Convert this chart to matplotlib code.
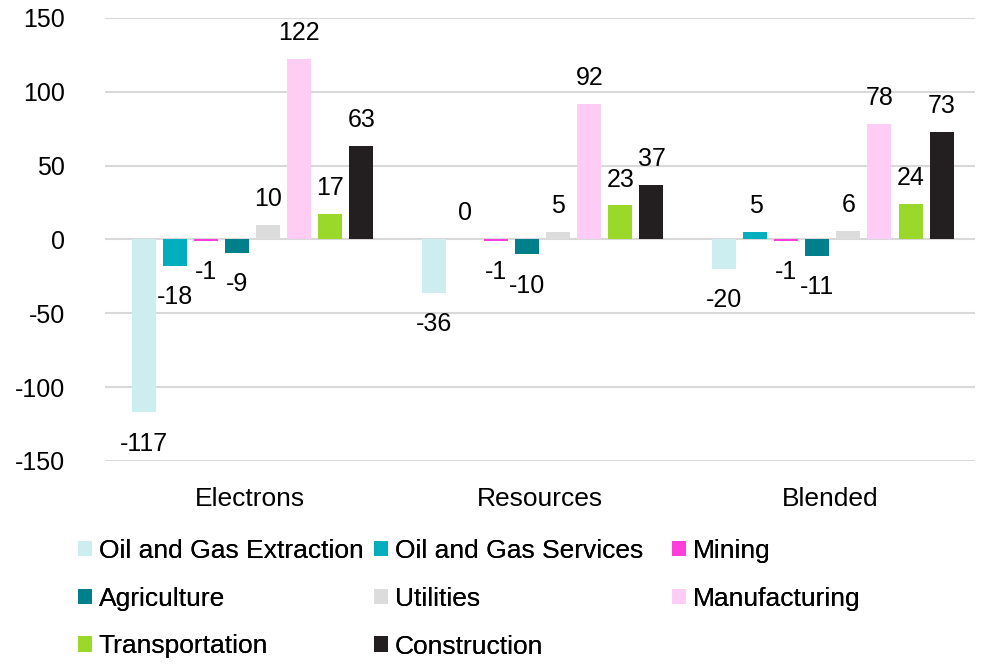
import matplotlib
matplotlib.use("Agg")
import matplotlib.pyplot as plt
import numpy as np
from matplotlib.patches import Patch

plt.rcParams['font.family'] = ['Liberation Sans', 'DejaVu Sans']

categories = ["Electrons", "Resources", "Blended"]
series = ["Oil and Gas Extraction", "Oil and Gas Services", "Mining", "Agriculture",
          "Utilities", "Manufacturing", "Transportation", "Construction"]
oil_gas_extraction = [-117, -36, -20]
oil_gas_services = [-18, 0, 5]
mining = [-1, -1, -1]
agriculture = [-9, -10, -11]
utilities = [10, 5, 6]
manufacturing = [122, 92, 78]
transportation = [17, 23, 24]
construction = [63, 37, 73]
values = [oil_gas_extraction, oil_gas_services, mining, agriculture,
          utilities, manufacturing, transportation, construction]
colors = ["#CCEEF0", "#00AEBE", "#FF3DDB", "#00808A",
          "#DCDCDC", "#FECCF4", "#9AD82A", "#231F20"]
yticks = [-150, -100, -50, 0, 50, 100, 150]

fig = plt.figure(figsize=(9.81, 6.64), dpi=100)
ax = fig.add_axes([0.107, 0.306, 0.887, 0.667])

x = np.arange(len(categories))
slot = 31 / 290
width = 24 / 290
n = len(series)
fs_num = 18
fs_txt = 19
for i, (name, vals, c) in enumerate(zip(series, values, colors)):
    pos = x + (i - (n - 1) / 2) * slot + 0.01
    bars = ax.bar(pos, vals, width=width, color=c, label=name, zorder=3)
    for b, v in zip(bars, vals):
        cx = b.get_x() + b.get_width() / 2
        if v >= 0:
            ax.annotate(f"{v}", (cx, v), xytext=(0, 10), textcoords="offset points",
                        ha="center", va="bottom", fontsize=fs_num)
        else:
            ax.annotate(f"{v}", (cx, v), xytext=(0, -14), textcoords="offset points",
                        ha="center", va="top", fontsize=fs_num)

ax.set_xlim(-0.5, 2.5)
ax.set_ylim(-150, 150)
ax.set_yticks(yticks)
ax.set_yticklabels([str(t) for t in yticks], fontsize=fs_num)
ax.set_xticks(x)
ax.set_xticklabels(categories, fontsize=fs_txt)
ax.tick_params(axis='y', length=0, pad=29)
ax.tick_params(axis='x', length=0, pad=19)
ax.grid(axis='y', color='#D9D9D9', linewidth=1.5, zorder=0)
for s in ax.spines.values():
    s.set_visible(False)

columns = [[0, 3, 6], [1, 4, 7], [2, 5]]
col_x = [78, 374, 672]
for idxs, cx in zip(columns, col_x):
    handles = [Patch(facecolor=colors[k], label=series[k]) for k in idxs]
    leg = fig.legend(handles=handles, ncol=1, loc='upper left',
                     bbox_to_anchor=(cx / 981, 1 - 539 / 664),
                     frameon=False, fontsize=fs_txt, handlelength=0.53, handleheight=0.53,
                     handletextpad=0.25, labelspacing=0.9, borderaxespad=0, borderpad=0)
    fig.add_artist(leg)

fig.savefig("out.png", dpi=100)
